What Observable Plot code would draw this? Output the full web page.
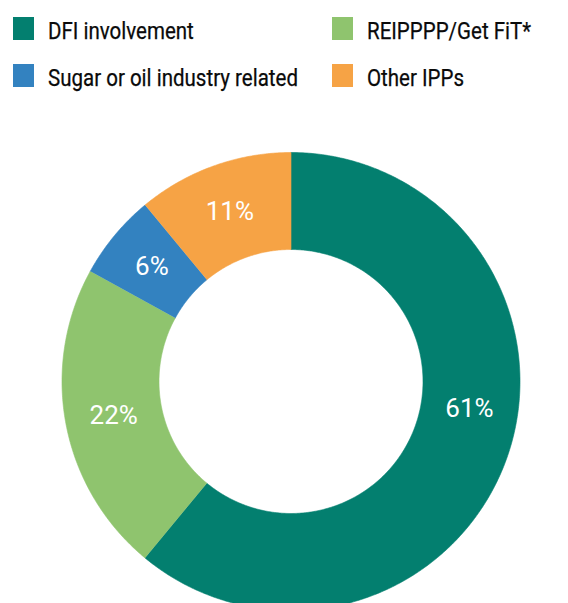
<!DOCTYPE html>
<html><head><meta charset="utf-8">
<script src="https://cdn.jsdelivr.net/npm/d3@7"></script>
<script src="https://cdn.jsdelivr.net/npm/@observablehq/plot@0.6"></script>
<style>
html,body{margin:0;padding:0;background:#fff;overflow:hidden;}
#wrap{position:relative;width:568px;height:603px;overflow:hidden;}
#legend{position:absolute;left:0;top:0;width:568px;height:110px;font-family:Roboto,"Liberation Sans",sans-serif;color:#0a0a0a;}
.sw{position:absolute;width:21px;height:23px;}
.lt{position:absolute;font-size:24px;line-height:1;white-space:nowrap;transform-origin:0 0;-webkit-text-stroke:0.25px #0a0a0a;}
#chart{position:absolute;left:0;top:110px;}
</style></head><body><div id="wrap"><div id="legend"></div><div id="chart"></div></div>
<script>
// ---- data ----
const categories = ["DFI involvement", "REIPPPP/Get FiT*", "Sugar or oil industry related", "Other IPPs"];
const values = [61, 22, 6, 11];
const labels = ["61%", "22%", "6%", "11%"];
const colors = ["#037f6f", "#8fc46e", "#3382c0", "#f6a345"];
// legend grid: column 1 then column 2
const legendCol1 = ["DFI involvement", "Sugar or oil industry related"];
const legendCol2 = ["REIPPPP/Get FiT*", "Other IPPs"];

// ---- legend ----
const legend = document.getElementById("legend");
const rowsTop = [17, 64];
const colsLeft = [13, 332];
const spans = [];
[legendCol1, legendCol2].forEach((col, ci) => {
  col.forEach((name, ri) => {
    const sw = document.createElement("div");
    sw.className = "sw";
    sw.style.left = colsLeft[ci] + "px";
    sw.style.top = rowsTop[ri] + "px";
    sw.style.background = colors[categories.indexOf(name)];
    legend.appendChild(sw);
    const t = document.createElement("span");
    t.className = "lt";
    t.textContent = name;
    t.style.left = (colsLeft[ci] + 35) + "px";
    t.style.top = (rowsTop[ri] + 1.8) + "px";
    legend.appendChild(t);
    spans.push(t);
  });
});
const sugar = spans[1];
const sx = 250 / sugar.getBoundingClientRect().width;
spans.forEach(s => s.style.transform = `scaleX(${sx})`);

// ---- donut ----
const data = categories.map((c, i) => ({category: c, value: values[i], label: labels[i]}));
const arcs = d3.pie().sort(null).value(d => d.value).startAngle(0).endAngle(2 * Math.PI)(data);
const R0 = 0.5764, R1 = 1;
const pts = [];
arcs.forEach(a => {
  const n = Math.max(4, Math.ceil((a.endAngle - a.startAngle) * 180 / Math.PI * 2));
  for (let k = 0; k <= n; k++) {
    const t = a.startAngle + (a.endAngle - a.startAngle) * k / n;
    pts.push({category: a.data.category, x: R1 * Math.sin(t), y: R1 * Math.cos(t)});
  }
  for (let k = n; k >= 0; k--) {
    const t = a.startAngle + (a.endAngle - a.startAngle) * k / n;
    pts.push({category: a.data.category, x: R0 * Math.sin(t), y: R0 * Math.cos(t)});
  }
});
const labelPts = arcs.map((a, i) => {
  let mid = (a.startAngle + a.endAngle) / 2;
  if (i === 0) mid -= 11.2 * Math.PI / 180; // largest slice label nudged upward as in original
  const r = (R0 + R1) / 2;
  return {x: r * Math.sin(mid), y: r * Math.cos(mid), text: a.data.label};
});

const W = 568, H = 493, cx = 290.5, cy = 271, rpx = 229;
const chart = Plot.plot({
  width: W, height: H, margin: 0,
  style: {background: "white", overflow: "hidden"},
  x: {domain: [-cx / rpx, (W - cx) / rpx], axis: null},
  y: {domain: [-(H - cy) / rpx, cy / rpx], axis: null},
  color: {domain: categories, range: colors},
  marks: [
    Plot.line(pts, {x: "x", y: "y", z: "category", fill: "category", stroke: "category", strokeWidth: 0.6}),
    Plot.text(labelPts, {x: "x", y: "y", text: "text", fill: "white", fontSize: 26, fontWeight: 400, fontFamily: "Roboto, sans-serif"})
  ]
});
document.getElementById("chart").appendChild(chart);
</script></body></html>
